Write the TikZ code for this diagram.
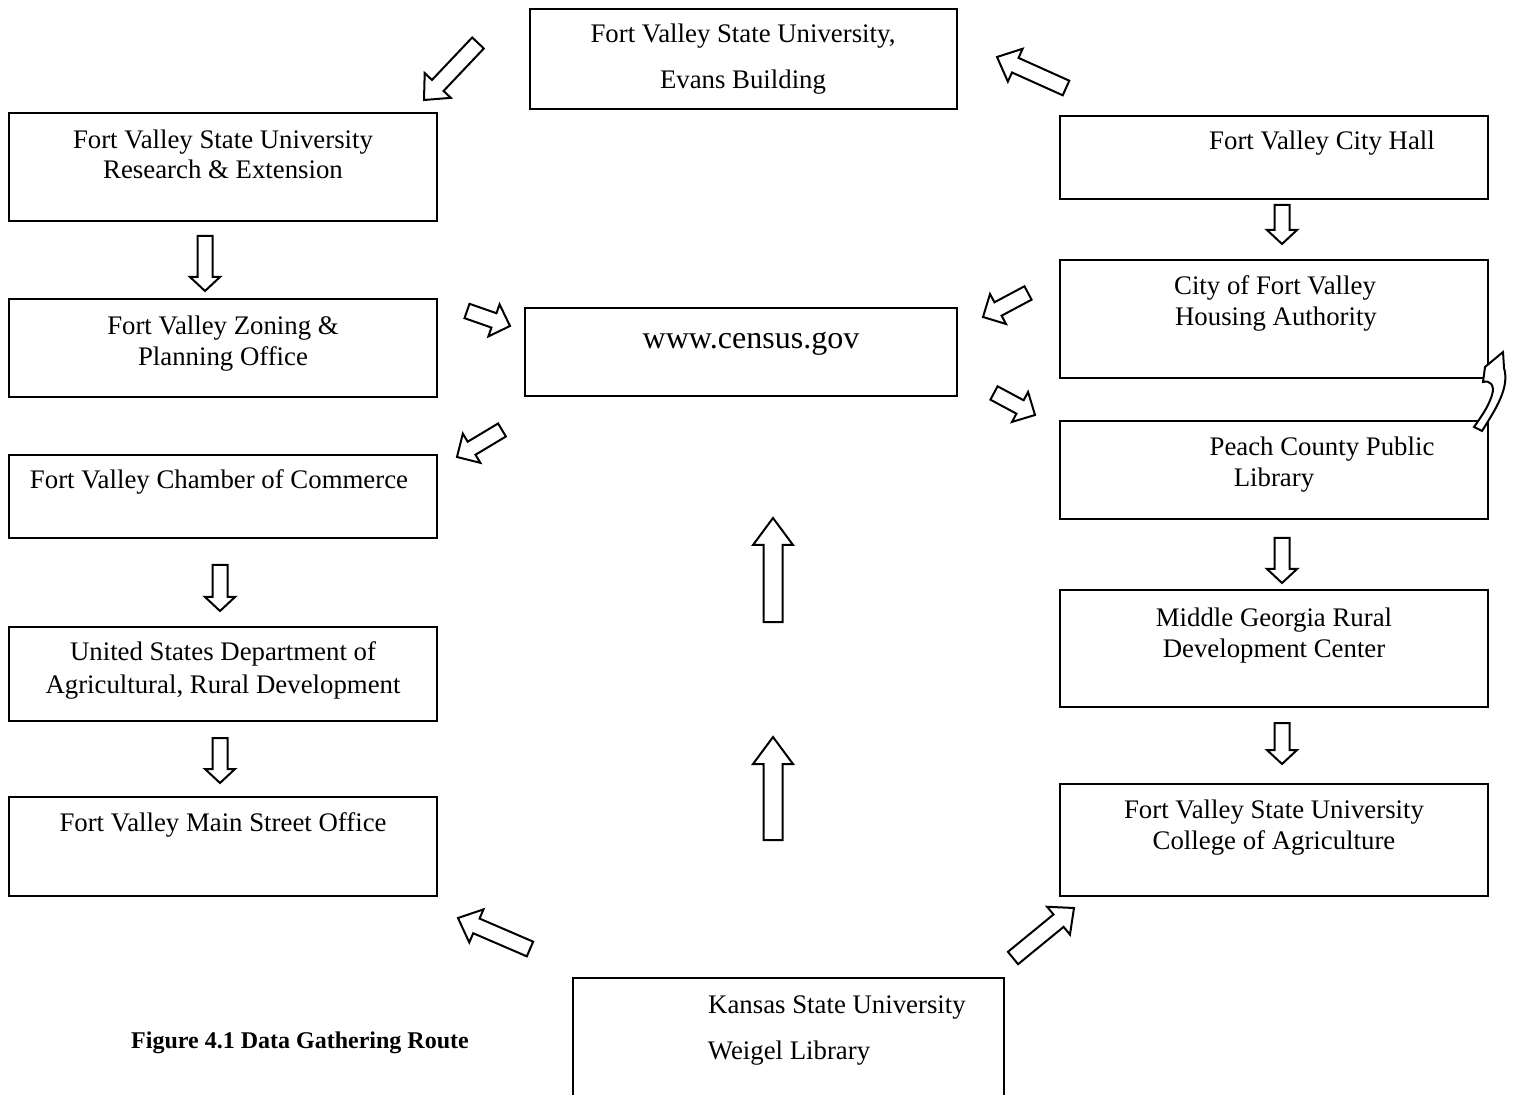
\documentclass[tikz,border=0pt]{standalone}
\usepackage{fontspec}
\setmainfont{Liberation Serif}
\usetikzlibrary{calc}
\tikzset{
  box/.style={draw, line width=0.8pt, rectangle, inner sep=0pt, outer sep=0pt},
  txt/.style={anchor=base, inner sep=0pt, font=\fontsize{13.4}{15}\selectfont},
  arr/.style={draw, line width=1pt, line join=miter, fill=white},
}
% #1 tail, #2 tip, #3 half shaft, #4 half head, #5 head length
\newcommand\fatarrow[5]{%
  \coordinate (nk) at ($(#2)!#5!(#1)$);
  \path[arr] ($(#1)!#3!90:(#2)$) -- ($(nk)!#3!-90:(#1)$) -- ($(nk)!#4!-90:(#1)$) -- (#2)
    -- ($(nk)!#4!90:(#1)$) -- ($(nk)!#3!90:(#1)$) -- ($(#1)!#3!-90:(#2)$) -- cycle;
}
\begin{document}
\begin{tikzpicture}[x=0.5pt,y=-0.5pt]
\useasboundingbox (0,0) rectangle (1519,1095);
% boxes
\node[box, minimum width=213.5pt, minimum height=50pt] (evans) at (743.5,59) {};
\node[box, minimum width=214pt, minimum height=54pt] (research) at (223,167) {};
\node[box, minimum width=214pt, minimum height=49pt] (zoning) at (223,348) {};
\node[box, minimum width=214pt, minimum height=41.5pt] (chamber) at (223,496.5) {};
\node[box, minimum width=214pt, minimum height=47pt] (usda) at (223,674) {};
\node[box, minimum width=214pt, minimum height=49.5pt] (mainst) at (223,846.5) {};
\node[box, minimum width=216pt, minimum height=44pt] (census) at (741,352) {};
\node[box, minimum width=214pt, minimum height=41.5pt] (cityhall) at (1274,157.5) {};
\node[box, minimum width=214pt, minimum height=59pt] (housing) at (1274,319) {};
\node[box, minimum width=214pt, minimum height=49pt] (peach) at (1274,470) {};
\node[box, minimum width=214pt, minimum height=58.5pt] (middle) at (1274,648.5) {};
\node[box, minimum width=214pt, minimum height=56pt] (college) at (1274,840) {};
\node[box, minimum width=215.5pt, minimum height=59pt] (kansas) at (788.5,1037) {};
% texts
\node[txt] (t1) at (743,43) {Fort Valley State University,};
\node[txt] (t2) at (743,89) {Evans Building};
\node[txt] (t3) at (223,149) {Fort Valley State University};
\node[txt] (t4) at (223,179) {Research \& Extension};
\node[txt] (t5) at (223,335) {Fort Valley Zoning \&};
\node[txt] (t6) at (223,366) {Planning Office};
\node[txt] (t7) at (219,489) {Fort Valley Chamber of Commerce};
\node[txt] (t8) at (223,661) {United States Department of};
\node[txt] (t9) at (223,693) {Agricultural, Rural Development};
\node[txt] (t10) at (223,831) {Fort Valley Main Street Office};
\node[txt, font=\fontsize{16}{18}\selectfont] (t11) at (751,349) {www.census.gov};
\node[txt] (t12) at (1322,150) {Fort Valley City Hall};
\node[txt] (t13) at (1275,295) {City of Fort Valley};
\node[txt] (t14) at (1276,326) {Housing Authority};
\node[txt] (t15) at (1322,456) {Peach County Public};
\node[txt] (t16) at (1274,487) {Library};
\node[txt] (t17) at (1274,626) {Middle Georgia Rural};
\node[txt] (t18) at (1274,657) {Development Center};
\node[txt] (t19) at (1274,818) {Fort Valley State University};
\node[txt] (t20) at (1274,849) {College of Agriculture};
\node[txt] (t21) at (837,1013) {Kansas State University};
\node[txt] (t22) at (789,1059) {Weigel Library};
\node[txt, font=\fontsize{12}{14}\selectfont\bfseries] (cap) at (300,1048) {Figure 4.1 Data Gathering Route};
% arrow end points
\coordinate (a1t) at (478,43);   \coordinate (a1h) at (424,100);
\coordinate (a2t) at (1066,88);  \coordinate (a2h) at (997,57);
\coordinate (a3t) at (467,311);  \coordinate (a3h) at (510,326);
\coordinate (a4t) at (1028,293); \coordinate (a4h) at (983,317);
\coordinate (a5t) at (994,393);  \coordinate (a5h) at (1035,415);
\coordinate (a6t) at (502,430);  \coordinate (a6h) at (457,457);
\coordinate (a7t) at (773,622);  \coordinate (a7h) at (773,518);
\coordinate (a8t) at (773,840);  \coordinate (a8h) at (773,737);
\coordinate (a9t) at (205,236);  \coordinate (a9h) at (205,291);
\coordinate (a10t) at (220,565); \coordinate (a10h) at (220,611);
\coordinate (a11t) at (220,738); \coordinate (a11h) at (220,783);
\coordinate (a12t) at (1282,205); \coordinate (a12h) at (1282,244);
\coordinate (a13t) at (1282,538); \coordinate (a13h) at (1282,583);
\coordinate (a14t) at (1282,723); \coordinate (a14h) at (1282,764);
\coordinate (a15t) at (530,949); \coordinate (a15h) at (458,918);
\coordinate (a16t) at (1013,958); \coordinate (a16h) at (1074,908);
% diagonal arrows
\fatarrow{a1t}{a1h}{4pt}{9pt}{10pt}
\fatarrow{a2t}{a2h}{4pt}{9pt}{10pt}
\fatarrow{a3t}{a3h}{3.8pt}{8.5pt}{8.5pt}
\fatarrow{a4t}{a4h}{3.8pt}{8.5pt}{8.5pt}
\fatarrow{a5t}{a5h}{3.8pt}{8.5pt}{8.5pt}
\fatarrow{a6t}{a6h}{3.8pt}{8.5pt}{8.5pt}
\fatarrow{a15t}{a15h}{4pt}{9pt}{10pt}
\fatarrow{a16t}{a16h}{4pt}{9pt}{10pt}
% up arrows
\fatarrow{a7t}{a7h}{4.75pt}{10pt}{13.5pt}
\fatarrow{a8t}{a8h}{4.75pt}{10pt}{13.5pt}
% down arrows
\fatarrow{a9t}{a9h}{3.75pt}{7.5pt}{7pt}
\fatarrow{a10t}{a10h}{3.75pt}{7.5pt}{7pt}
\fatarrow{a11t}{a11h}{3.75pt}{7.5pt}{7pt}
\fatarrow{a12t}{a12h}{3.75pt}{7.5pt}{7pt}
\fatarrow{a13t}{a13h}{3.75pt}{7.5pt}{7pt}
\fatarrow{a14t}{a14h}{3.75pt}{7.5pt}{7pt}
% curved arrow
\path[arr] (1474,427) -- (1482,431) .. controls (1495,410) and (1510,388) .. (1504,368)
  -- (1503,352) -- (1485,367) -- (1483,382) .. controls (1490,380) and (1495,385) .. (1492,395)
  .. controls (1488,408) and (1480,418) .. (1474,427) -- cycle;
\end{tikzpicture}
\end{document}
